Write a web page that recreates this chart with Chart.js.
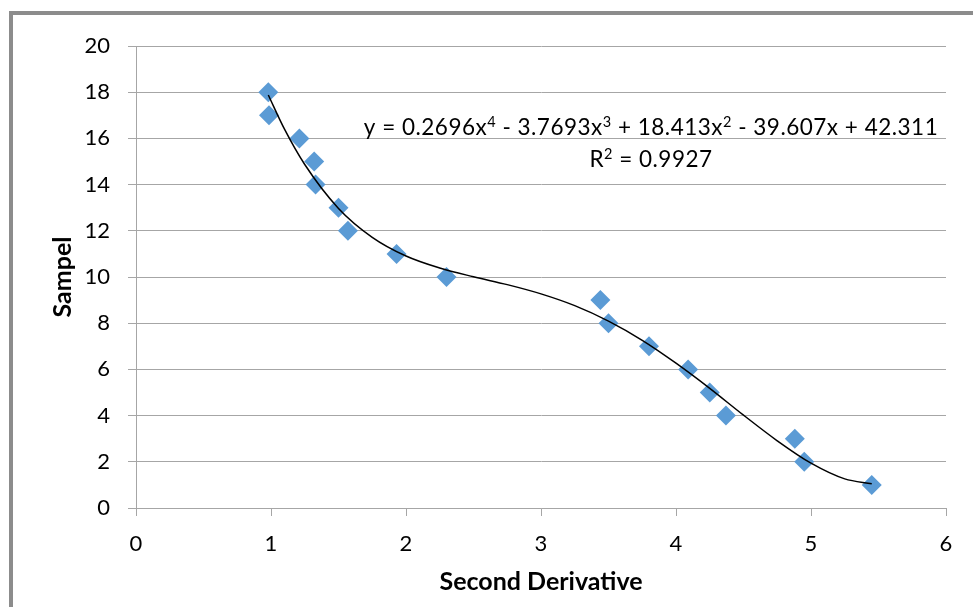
<!DOCTYPE html>
<html>
<head>
<meta charset="utf-8">
<script src="https://cdn.jsdelivr.net/npm/chart.js@4.4.1/dist/chart.umd.min.js"></script>
<style>
  html, body { margin: 0; padding: 0; background: #fff; overflow: hidden; }
  #frame {
    position: absolute; left: 9px; top: 11px; width: 1100px; height: 700px;
    border-left: 4px solid #8c8c8c; border-top: 4px solid #8c8c8c;
  }
  #wrap { position: absolute; left: 0; top: 0; width: 973px; height: 607px; }
</style>
</head>
<body>
<div id="frame"></div>
<div id="wrap"><canvas id="chart"></canvas></div>
<script>
// measured points
const secondDerivative = [0.98, 0.985, 1.21, 1.32, 1.33, 1.50, 1.57, 1.93, 2.30, 3.44, 3.50, 3.80, 4.09, 4.25, 4.37, 4.88, 4.95, 5.45];
const sampel = [18, 17, 16, 15, 14, 13, 12, 11, 10, 9, 8, 7, 6, 5, 4, 3, 2, 1];

// poly trendline values
const trendX = [0.98, 1.1, 1.25, 1.5, 1.75, 2, 2.25, 2.5, 2.75, 3, 3.25, 3.5, 3.75, 4, 4.25, 4.5, 4.75, 5, 5.25, 5.45];
const trendY = [17.88, 16.40, 14.87, 12.97, 11.72, 10.91, 10.39, 10.01, 9.67, 9.27, 8.76, 8.09, 7.26, 6.27, 5.18, 4.02, 2.91, 1.94, 1.26, 1.05];

// [text, isSuperscript]
const equationParts = [
  ["y = 0.2696x", false], ["4", true],
  [" - 3.7693x", false], ["3", true],
  [" + 18.413x", false], ["2", true],
  [" - 39.607x + 42.311", false]
];
const rSquaredParts = [["R", false], ["2", true], [" = 0.9927", false]];

const FONT = "Lato, 'Open Sans', sans-serif";

const points = secondDerivative.map((x, i) => ({ x: x, y: sampel[i] }));
const trend = trendX.map((x, i) => ({ x: x, y: trendY[i] }));

function drawParts(ctx, parts, cx, baseline) {
  const normal = "22.5px " + FONT;
  const sup = "14.5px " + FONT;
  ctx.letterSpacing = "0.5px";
  let total = 0;
  parts.forEach(p => {
    ctx.font = p[1] ? sup : normal;
    total += ctx.measureText(p[0]).width;
  });
  let x = cx - total / 2;
  parts.forEach(p => {
    ctx.font = p[1] ? sup : normal;
    ctx.fillText(p[0], x, p[1] ? baseline - 8 : baseline);
    x += ctx.measureText(p[0]).width;
  });
}

const equationLabel = {
  id: "equationLabel",
  afterDraw(chart) {
    const ctx = chart.ctx;
    ctx.save();
    ctx.fillStyle = "#000";
    ctx.textAlign = "left";
    ctx.textBaseline = "alphabetic";
    drawParts(ctx, equationParts, 651, 135);
    drawParts(ctx, rSquaredParts, 651, 167);
    ctx.restore();
  }
};

const ctx = document.getElementById("chart").getContext("2d");

new Chart(ctx, {
  type: "scatter",
  data: {
    datasets: [
      {
        label: "Trend",
        data: trend,
        showLine: true,
        borderColor: "#000",
        borderWidth: 1.5,
        pointRadius: 0,
        cubicInterpolationMode: "monotone",
        order: 0
      },
      {
        label: "Sampel",
        data: points,
        pointStyle: "rectRot",
        pointRadius: 10,
        pointHoverRadius: 10,
        backgroundColor: "#5b9bd5",
        borderColor: "#5b9bd5",
        borderWidth: 0,
        order: 1
      }
    ]
  },
  options: {
    responsive: true,
    maintainAspectRatio: false,
    animation: false,
    layout: { padding: { top: 46, right: 27, left: 0, bottom: 0 } },
    plugins: {
      legend: { display: false },
      tooltip: { enabled: false }
    },
    scales: {
      x: {
        type: "linear",
        min: 0,
        max: 6,
        ticks: {
          stepSize: 1,
          padding: 15,
          color: "#000",
          font: { family: FONT, size: 22 }
        },
        grid: {
          drawOnChartArea: false,
          drawTicks: true,
          tickLength: 8,
          color: "#a6a6a6"
        },
        border: { display: true, color: "#a6a6a6" },
        title: {
          display: true,
          text: "Second Derivative",
          color: "#000",
          font: { family: FONT, size: 25, weight: "bold" },
          padding: { top: 0, bottom: 10 }
        },
        afterFit(scale) { scale.height = 99; }
      },
      y: {
        type: "linear",
        min: 0,
        max: 20,
        ticks: {
          stepSize: 2,
          padding: 18,
          color: "#000",
          font: { family: FONT, size: 22 }
        },
        grid: {
          drawTicks: true,
          tickLength: 8,
          color: "#a6a6a6"
        },
        border: { display: true, color: "#a6a6a6" },
        title: {
          display: true,
          text: "Sampel",
          color: "#000",
          font: { family: FONT, size: 25, weight: "bold" },
          padding: { top: 48, bottom: 0 }
        },
        afterFit(scale) { scale.width = 136; }
      }
    }
  },
  plugins: [equationLabel]
});
</script>
</body>
</html>
